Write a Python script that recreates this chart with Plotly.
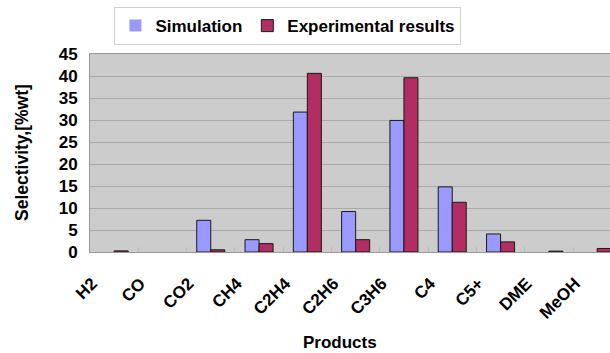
import plotly.graph_objects as go

# Product selectivity: simulation vs. experiment (% wt)
products = ["H2", "CO", "CO2", "CH4", "C2H4", "C2H6", "C3H6", "C4", "C5+", "DME", "MeOH"]
simulation = [0, 0, 7.2, 2.8, 31.8, 9.2, 29.9, 14.8, 4.1, 0, 0]
experimental = [0.25, 0, 0.5, 1.9, 40.6, 2.8, 39.6, 11.3, 2.3, 0.2, 0.8]
y_ticks = [0, 5, 10, 15, 20, 25, 30, 35, 40, 45]

FONT = "Arial, Liberation Sans, sans-serif"
SIM_COLOR = "#9999ff"
EXP_COLOR = "#b22e62"


def outline_widths(values):
    # empty bars get no outline so they leave no stroke on the axis
    return [0 if v == 0 else 1 for v in values]


fig = go.Figure()
fig.add_trace(go.Bar(
    x=products, y=simulation, name="Simulation",
    marker=dict(color=SIM_COLOR,
                line=dict(color="#1a1a1a", width=outline_widths(simulation))),
))
fig.add_trace(go.Bar(
    x=products, y=experimental, name="Experimental results",
    marker=dict(color=EXP_COLOR,
                line=dict(color="#1a1a1a", width=outline_widths(experimental))),
))

fig.update_layout(
    width=610, height=353,
    margin=dict(l=90, r=0, t=54, b=101),
    paper_bgcolor="white",
    plot_bgcolor="#cccccc",
    barmode="group", bargap=0.42, bargroupgap=0,
    font=dict(family=FONT, color="black"),
    showlegend=True,
    legend=dict(
        orientation="h",
        xref="container", yref="container",
        x=0.472, xanchor="center", y=0.98, yanchor="top",
        bgcolor="white", bordercolor="#d0d0d0", borderwidth=1,
        font=dict(family=FONT, size=17, color="black", weight="bold"),
        itemwidth=30, tracegroupgap=0,
    ),
    xaxis=dict(
        range=[-0.5, 10.266],
        tickangle=-45,
        tickfont=dict(family=FONT, size=17, weight="bold"),
        ticks="inside", tickson="boundaries", ticklen=5, tickcolor="#bbbbbb",
        ticklabelstandoff=14, ticklabelshift=-22,
        showline=True, linecolor="#999999", linewidth=1, mirror=True,
        showgrid=False,
    ),
    yaxis=dict(
        range=[0, 45],
        tickvals=y_ticks,
        tickfont=dict(family=FONT, size=17, weight="bold"),
        ticks="", ticklabelstandoff=8,
        showline=True, linecolor="#999999", linewidth=1,
        showgrid=True, gridcolor="#a9a9a9", gridwidth=1,
        zeroline=False,
    ),
    annotations=[
        dict(text="Products", xref="paper", yref="paper",
             x=(340 - 90) / 520, y=-(342 - 252) / 198,
             xanchor="center", yanchor="middle", showarrow=False,
             font=dict(family=FONT, size=17, weight="bold")),
        dict(text="Selectivity,[%wt]", xref="paper", yref="paper",
             x=-(90 - 22) / 520, y=0.5, textangle=-90,
             xanchor="center", yanchor="middle", showarrow=False,
             font=dict(family=FONT, size=17.5, weight="bold")),
    ],
)

fig.write_html("out.html")
